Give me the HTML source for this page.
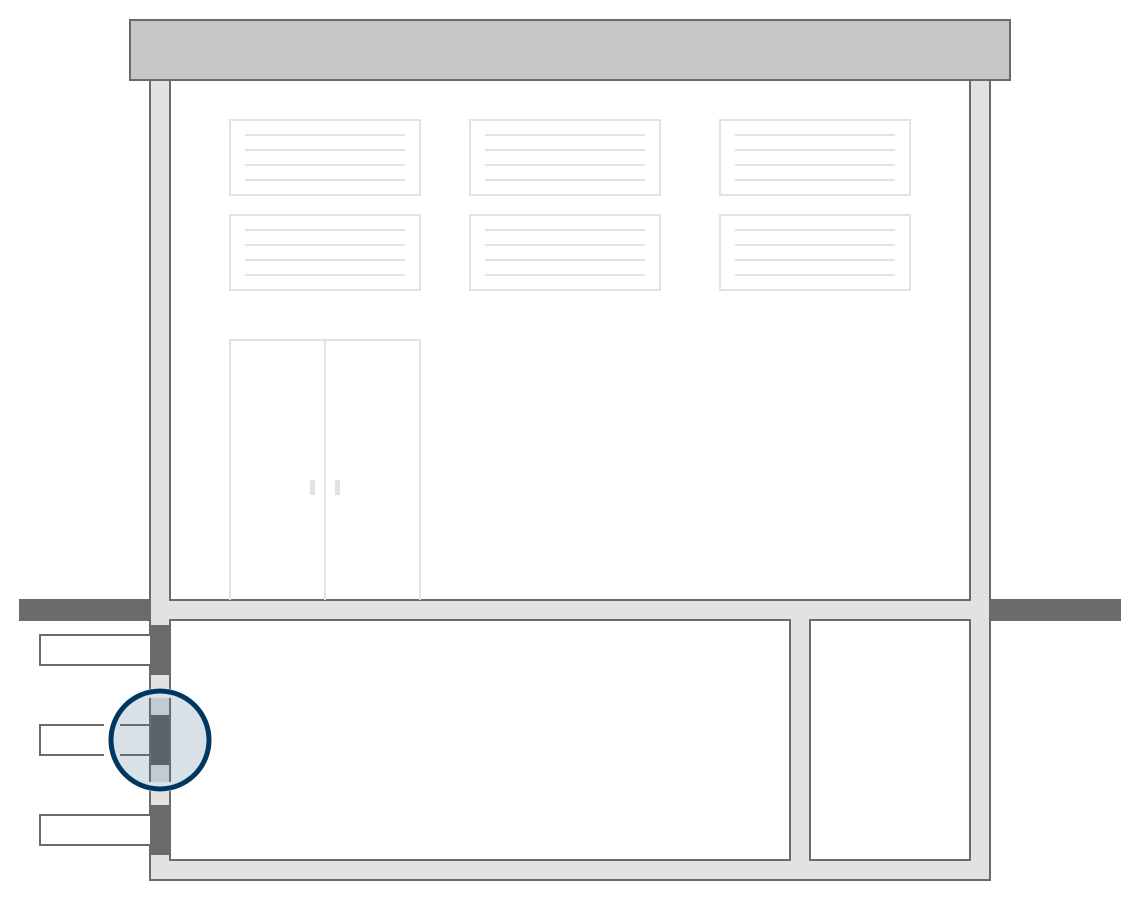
<!DOCTYPE html>
<html><head><style>html,body{margin:0;padding:0;background:#fff}</style></head><body>
<svg width="1140" height="900" viewBox="0 0 1140 900" xmlns="http://www.w3.org/2000/svg">
<rect x="150" y="60" width="840" height="820" fill="#e2e2e2" stroke="#6b6b6b" stroke-width="2"/>
<rect x="170" y="70" width="800" height="530" fill="#fff" stroke="#6b6b6b" stroke-width="2"/>
<rect x="170" y="620" width="620" height="240" fill="#fff" stroke="#6b6b6b" stroke-width="2"/>
<rect x="810" y="620" width="160" height="240" fill="#fff" stroke="#6b6b6b" stroke-width="2"/>
<rect x="130" y="20" width="880" height="60" fill="#c6c6c6" stroke="#6b6b6b" stroke-width="2"/>
<rect x="19" y="599" width="131" height="22" fill="#6b6b6b"/>
<rect x="990" y="599" width="131" height="22" fill="#6b6b6b"/>
<g fill="none" stroke="#e2e2e2" stroke-width="2">
<rect x="230" y="120" width="190" height="75"/><rect x="470" y="120" width="190" height="75"/><rect x="720" y="120" width="190" height="75"/>
<rect x="230" y="215" width="190" height="75"/><rect x="470" y="215" width="190" height="75"/><rect x="720" y="215" width="190" height="75"/>
<path d="M245 135H405M245 150H405M245 165H405M245 180H405M485 135H645M485 150H645M485 165H645M485 180H645M735 135H895M735 150H895M735 165H895M735 180H895
M245 230H405M245 245H405M245 260H405M245 275H405M485 230H645M485 245H645M485 260H645M485 275H645M735 230H895M735 245H895M735 260H895M735 275H895"/>
<path d="M230 600V340H420V600M325 340V600"/>
</g>
<rect x="310" y="480" width="5" height="15" fill="#e2e2e2"/>
<rect x="335" y="480" width="5" height="15" fill="#e2e2e2"/>
<rect x="150" y="625" width="20" height="50" fill="#6b6b6b"/>
<rect x="150" y="805" width="20" height="50" fill="#6b6b6b"/>
<g fill="#fff" stroke="#6b6b6b" stroke-width="2">
<path d="M150 635H40V665H150"/>
<path d="M150 815H40V845H150"/>
<path d="M104 725H40V755H104" fill="#fff"/>
</g>
<circle cx="160" cy="740" r="52" fill="#fff"/>
<circle cx="160" cy="740" r="49" fill="#d9e1e8" stroke="#003761" stroke-width="5"/>
<rect x="150" y="698" width="20" height="84" fill="#c3cad2"/>
<rect x="150" y="715" width="20" height="50" fill="#5a626b"/>
<path d="M150 698V782M170 698V782M120 725H150M120 755H150" stroke="#6b6b6b" stroke-width="2" fill="none"/>
</svg>
</body></html>
